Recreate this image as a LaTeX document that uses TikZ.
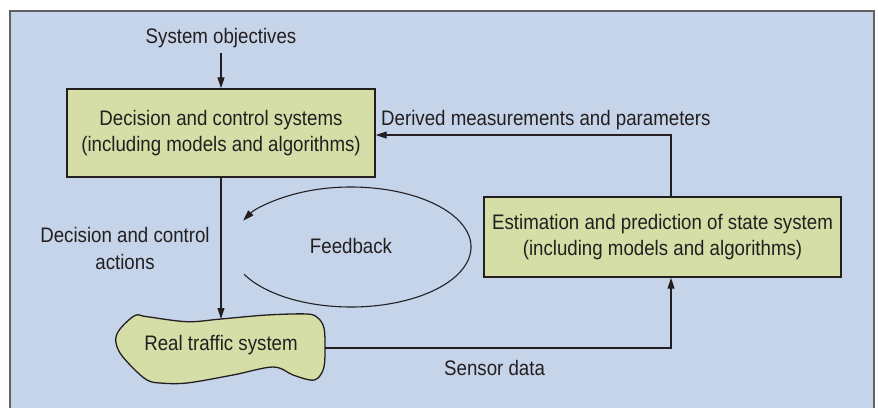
\documentclass[tikz,border=0pt]{standalone}
\usepackage{fontspec}
\setmainfont{Liberation Sans}[FakeStretch=0.89]
\usetikzlibrary{arrows.meta}
\definecolor{panelblue}{RGB}{198,212,234}
\definecolor{boxgreen}{RGB}{213,222,166}
\definecolor{ink}{RGB}{35,31,32}
\definecolor{framegray}{RGB}{95,95,100}

\begin{document}
\begin{tikzpicture}[x=1pt,y=-1pt,
  txt/.style={text=ink, font=\fontsize{21}{25.5}\selectfont, inner sep=0pt, align=center},
  box/.style={txt, draw=ink, line width=1.4pt, fill=boxgreen},
  link/.style={draw=ink, line width=1.1pt},
  tip/.style={-{Triangle[length=11pt,width=7pt]}},
]
\useasboundingbox (0,0) rectangle (878,408);
% panel
\fill[panelblue] (10,11) rectangle (874,408);
\draw[framegray, line width=1.5pt] (10,408) -- (10,11) -- (874,11) -- (874,408);

% blocks
\node[txt] (obj) at (221,38) {System objectives};
\node[box, minimum width=308pt, minimum height=88pt] (dec) at (221,133)
  {Decision and control systems\\(including models and algorithms)};
\node[box, minimum width=357pt, minimum height=80pt] (est) at (662.5,237)
  {Estimation and prediction of state system\\(including models and algorithms)};

% real traffic system outline
\draw[ink, fill=boxgreen, line width=1.3pt] plot[smooth cycle, tension=0.55] coordinates {
  (115.7,340) (120,329) (135,315.5) (147,316.7) (187,321.7) (221,319) (267,315)
  (307,314) (318,318) (324,328) (325,347) (324,367) (318,378) (310,380) (293,375)
  (273,367) (233,375) (187,383) (160,383) (147,380) (133,368) (120,353)};
\node[txt] (rts) at (221,345) {Real traffic system};
\coordinate (blobtop) at (221,319);
\coordinate (blobright) at (325,348);

% connectors
\draw[link,tip,shorten <=5pt] (obj) -- (dec);
\draw[link,tip] (dec.south) -- (blobtop);
\draw[link,tip] (blobright) -| ([xshift=8.5pt]est.south);
\draw[link,tip] ([xshift=8.5pt]est.north) |- ([yshift=-2pt]dec.east);

% feedback loop
\draw[link,tip] (351,247) ++(153:120 and 60)
  arc[start angle=153, end angle=-154, x radius=120, y radius=60];

% labels
\node[txt, anchor=west] (dmp) at (381,120) {Derived measurements and parameters};
\node[txt, font=\fontsize{21}{26.5}\selectfont] (dca) at (125,248.5) {Decision and control\\actions};
\node[txt, anchor=west] (sd) at (444,368) {Sensor data};
\node[txt] (fb) at (351,246) {Feedback};
\end{tikzpicture}
\end{document}
